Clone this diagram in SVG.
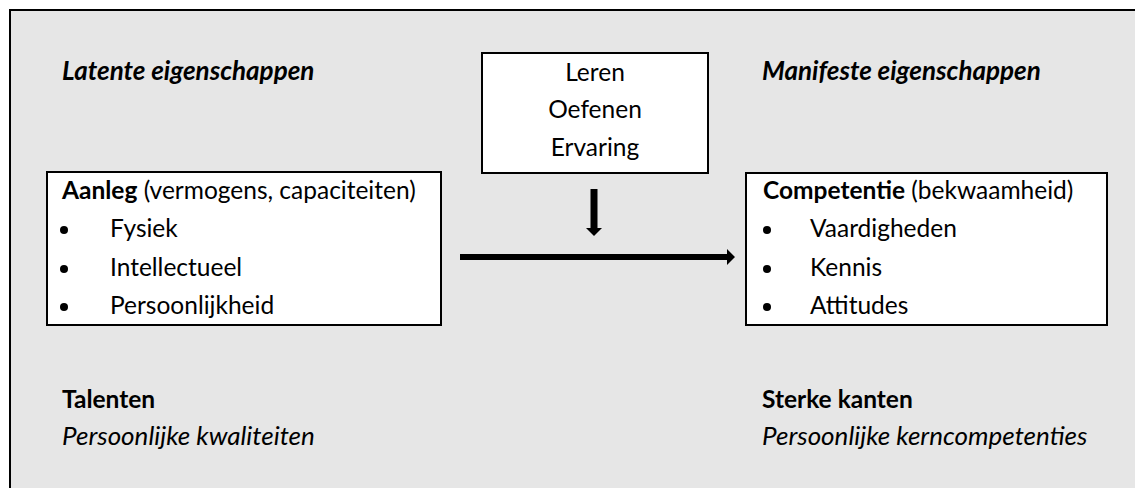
<svg xmlns="http://www.w3.org/2000/svg" width="1135" height="488" viewBox="0 0 1135 488">
<defs>
<style>
text{font-family:Lato,"Liberation Sans",sans-serif;font-size:24.5px;fill:#000}
.b{font-weight:bold}
.i{font-style:italic;font-size:26px}
.bi{font-weight:bold;font-style:italic;font-size:26px}
.box{fill:#fff;stroke:#000;stroke-width:2}
.c{text-anchor:middle}
</style>
</defs>
<rect x="0" y="0" width="1135" height="488" fill="#fff"/>
<rect x="10" y="10" width="1140" height="500" fill="#e6e6e6" stroke="#000" stroke-width="2"/>
<g id="latent-title"><text class="bi" x="62" y="80">Latente eigenschappen</text></g>
<g id="manifest-title"><text class="bi" x="762" y="80">Manifeste eigenschappen</text></g>
<g id="leren-box">
<rect class="box" x="482" y="53" width="226" height="120"/>
<text class="c" x="595" y="81">Leren</text>
<text class="c" x="595" y="118">Oefenen</text>
<text class="c" x="595" y="156">Ervaring</text>
</g>
<g id="aanleg-box">
<rect class="box" x="47" y="172" width="394" height="153"/>
<text x="62" y="199"><tspan class="b">Aanleg</tspan> (vermogens, capaciteiten)</text>
<circle cx="64" cy="230" r="4"/><text x="110" y="237">Fysiek</text>
<circle cx="64" cy="269" r="4"/><text x="110" y="276">Intellectueel</text>
<circle cx="64" cy="307" r="4"/><text x="110" y="314">Persoonlijkheid</text>
</g>
<g id="competentie-box">
<rect class="box" x="746" y="173" width="361" height="152"/>
<text x="763" y="199"><tspan class="b">Competentie</tspan> (bekwaamheid)</text>
<circle cx="767" cy="230" r="4"/><text x="810" y="237">Vaardigheden</text>
<circle cx="767" cy="269" r="4"/><text x="810" y="276">Kennis</text>
<circle cx="767" cy="307" r="4"/><text x="810" y="314">Attitudes</text>
</g>
<g id="talenten"><text class="b" x="62" y="408">Talenten</text><text class="i" x="62" y="445">Persoonlijke kwaliteiten</text></g>
<g id="sterke-kanten"><text class="b" x="762" y="408">Sterke kanten</text><text class="i" x="762" y="445">Persoonlijke kerncompetenties</text></g>
<g id="connectors">
<path d="M590.5 189H597.5V228H602L594 236L586 228H590.5Z" fill="#000"/>
<path d="M460 254H727V249L735 257L727 265V260H460Z" fill="#000"/>
</g>
</svg>
